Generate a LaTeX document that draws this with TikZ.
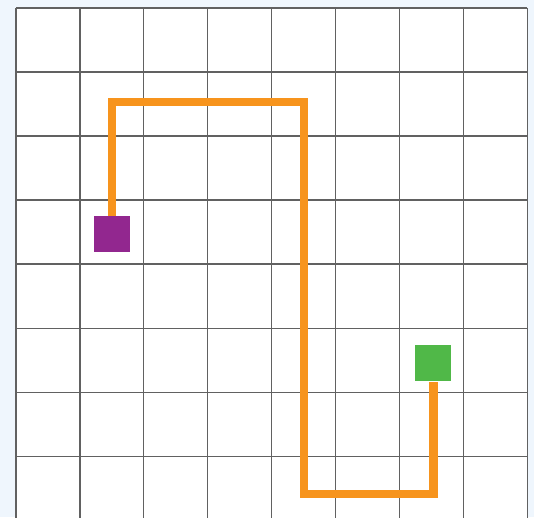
\documentclass[tikz,border=0pt]{standalone}
\usepackage{tikz}

\begin{document}
\begin{tikzpicture}[x=1cm,y=-1cm]
\definecolor{pageBlue}{HTML}{EFF6FD}
\definecolor{routeOrange}{HTML}{F7941D}
\definecolor{startPurple}{HTML}{92278F}
\definecolor{goalGreen}{HTML}{50B848}
\tikzset{
  cell line/.style={draw=black!62,line width=0.55pt},
  marker/.style={rectangle,inner sep=0pt,minimum size=0.5625cm},
  route/.style={draw=routeOrange,line width=3.8pt}
}
\clip (-0.25,-0.125) rectangle (8.09,7.953);
\fill[pageBlue] (-0.25,-0.125) rectangle (8.09,7.953);
\fill[white] (0,0) rectangle (7.98,8.2);
\foreach \x in {0,...,8} {
  \draw[cell line] (\x*0.998,0) -- (\x*0.998,8.2);
}
\foreach \y in {0,...,8} {
  \draw[cell line] (0,\y) -- (7.98,\y);
}
\node[marker,fill=startPurple] (start) at (1.5,3.53) {};
\node[marker,fill=goalGreen] (goal) at (6.52,5.55) {};
\coordinate (turnTop) at (4.5,1.47);
\coordinate (turnBottom) at (4.5,7.59);
\draw[route] (start) |- (turnTop) -- (turnBottom) -| (goal);
\end{tikzpicture}
\end{document}
